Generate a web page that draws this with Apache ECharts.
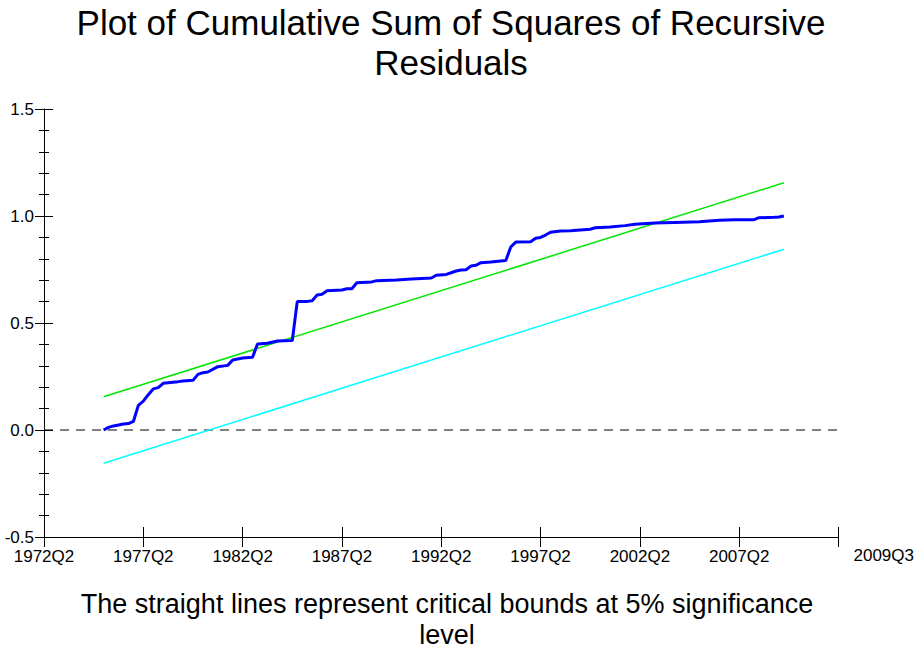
<!DOCTYPE html>
<html>
<head>
<meta charset="utf-8">
<script src="https://cdn.jsdelivr.net/npm/echarts@6/dist/echarts.min.js"></script>
<style>
  html, body { margin: 0; padding: 0; background: #fff; }
  #chart { width: 917px; height: 650px; }
</style>
</head>
<body>
<div id="chart"></div>
<script>
// quarter index: 0 = 1972Q2, one step per quarter
const tickLabels = ['1972Q2', '1977Q2', '1982Q2', '1987Q2', '1992Q2', '1997Q2', '2002Q2', '2007Q2', ''];
const lastObsLabel = '2009Q3';

// cumulative sum of squares of recursive residuals
const quarterIdx = [12, 13, 14, 15, 16, 17, 18, 19, 20, 21, 22, 23, 24, 25, 27, 28, 30, 31, 32, 33,
  35, 37, 38, 40, 42, 43, 45, 47, 50, 51, 53, 54, 55, 56, 57, 60, 61, 62, 63, 66,
  67, 71, 74, 78, 79, 81, 82, 83, 84, 85, 86, 87, 88, 90, 93, 94, 95, 98, 99, 100,
  101, 102, 104, 106, 108, 110, 111, 114, 117, 119, 123, 127, 132, 136, 139, 143, 144, 147, 148, 149];
const cusumsq = [0.000, 0.012, 0.019, 0.023, 0.028, 0.030, 0.040, 0.115, 0.135, 0.165, 0.192, 0.198, 0.218, 0.221, 0.226, 0.229, 0.232, 0.260, 0.268, 0.271,
  0.296, 0.302, 0.327, 0.336, 0.340, 0.402, 0.405, 0.416, 0.418, 0.600, 0.601, 0.604, 0.631, 0.634, 0.651, 0.654, 0.660, 0.660, 0.688, 0.692,
  0.698, 0.701, 0.706, 0.710, 0.723, 0.727, 0.735, 0.743, 0.748, 0.749, 0.766, 0.770, 0.782, 0.785, 0.792, 0.855, 0.878, 0.880, 0.896, 0.900,
  0.911, 0.924, 0.930, 0.931, 0.935, 0.938, 0.945, 0.949, 0.955, 0.961, 0.967, 0.970, 0.973, 0.980, 0.983, 0.983, 0.992, 0.994, 0.995, 1.000];

// 5% critical bounds (straight lines, start and end)
const boundQuarters = [12, 149];
const upperBound = [0.155, 1.155];
const lowerBound = [-0.155, 0.845];

const zeroLine = [[0, 0], [160, 0]];

const chart = echarts.init(document.getElementById('chart'), null, { renderer: 'svg' });

const font = 'Liberation Sans, Arial, sans-serif';
const black = '#000';

const xLabel = (v) => {
    const i = Math.round(v / 20);
    return v % 20 === 0 && tickLabels[i] !== undefined ? tickLabels[i] : '';
};

const baseX = {
    type: 'value',
    min: 0,
    max: 160,
    interval: 20,
    position: 'bottom',
    splitLine: { show: false },
    axisLine: { show: true, onZero: false, lineStyle: { color: black, width: 1 } }
};
const baseY = {
    type: 'value',
    min: -0.5,
    max: 1.5,
    interval: 0.5,
    position: 'left',
    splitLine: { show: false },
    axisLine: { show: true, onZero: false, lineStyle: { color: black, width: 1 } }
};

const option = {
    backgroundColor: '#fff',
    animation: false,
    title: [
        {
            text: 'Plot of Cumulative Sum of Squares of Recursive\nResiduals',
            left: 446,
            top: -3,
            textAlign: 'center',
            textStyle: { fontFamily: font, fontSize: 35, fontWeight: 'normal', color: black, lineHeight: 40 }
        },
        {
            text: 'The straight lines represent critical bounds at 5% significance\nlevel',
            left: 442,
            top: 583,
            textAlign: 'center',
            textStyle: { fontFamily: font, fontSize: 27, fontWeight: 'normal', color: black, lineHeight: 31 }
        }
    ],
    grid: { left: 44, right: 77, top: 109, bottom: 113, containLabel: false },
    xAxis: [
        Object.assign({}, baseX, {
            name: lastObsLabel,
            nameLocation: 'end',
            nameGap: 15,
            nameTextStyle: { fontFamily: font, fontSize: 17, color: black, verticalAlign: 'top', padding: [10, 0, 0, 0] },
            axisTick: { show: true, inside: false, length: 10, lineStyle: { color: black } },
            axisLabel: { show: true, margin: 11, fontFamily: font, fontSize: 17, color: black, formatter: xLabel,
                showMinLabel: true, showMaxLabel: true }
        }),
        Object.assign({}, baseX, {
            axisLine: { show: false, onZero: false },
            axisTick: { show: true, inside: true, length: 10, lineStyle: { color: black } },
            axisLabel: { show: false }
        })
    ],
    yAxis: [
        Object.assign({}, baseY, {
            axisTick: { show: true, inside: false, length: 9, lineStyle: { color: black } },
            minorTick: { show: true, splitNumber: 5, length: 5, lineStyle: { color: black } },
            axisLabel: { show: true, margin: 10, fontFamily: font, fontSize: 17, color: black,
                formatter: (v) => v.toFixed(1) }
        }),
        Object.assign({}, baseY, {
            axisLine: { show: false, onZero: false },
            axisTick: { show: true, inside: true, length: 9, lineStyle: { color: black } },
            minorTick: { show: true, splitNumber: 5, length: 5, lineStyle: { color: black } },
            axisLabel: { show: false }
        })
    ],
    series: [
        {
            name: 'zero',
            type: 'line',
            data: zeroLine,
            symbol: 'none',
            silent: true,
            lineStyle: { color: black, width: 1, type: [9, 7] }
        },
        {
            name: 'upper',
            type: 'line',
            data: boundQuarters.map((q, i) => [q, upperBound[i]]),
            symbol: 'none',
            lineStyle: { color: '#00e600', width: 1.5 }
        },
        {
            name: 'lower',
            type: 'line',
            data: boundQuarters.map((q, i) => [q, lowerBound[i]]),
            symbol: 'none',
            lineStyle: { color: '#00ffff', width: 1.5 }
        },
        {
            name: 'CUSUMSQ',
            type: 'line',
            data: quarterIdx.map((q, i) => [q, cusumsq[i]]),
            symbol: 'none',
            lineStyle: { color: '#0000ff', width: 3 },
            z: 5
        }
    ]
};

chart.setOption(option);
</script>
</body>
</html>
